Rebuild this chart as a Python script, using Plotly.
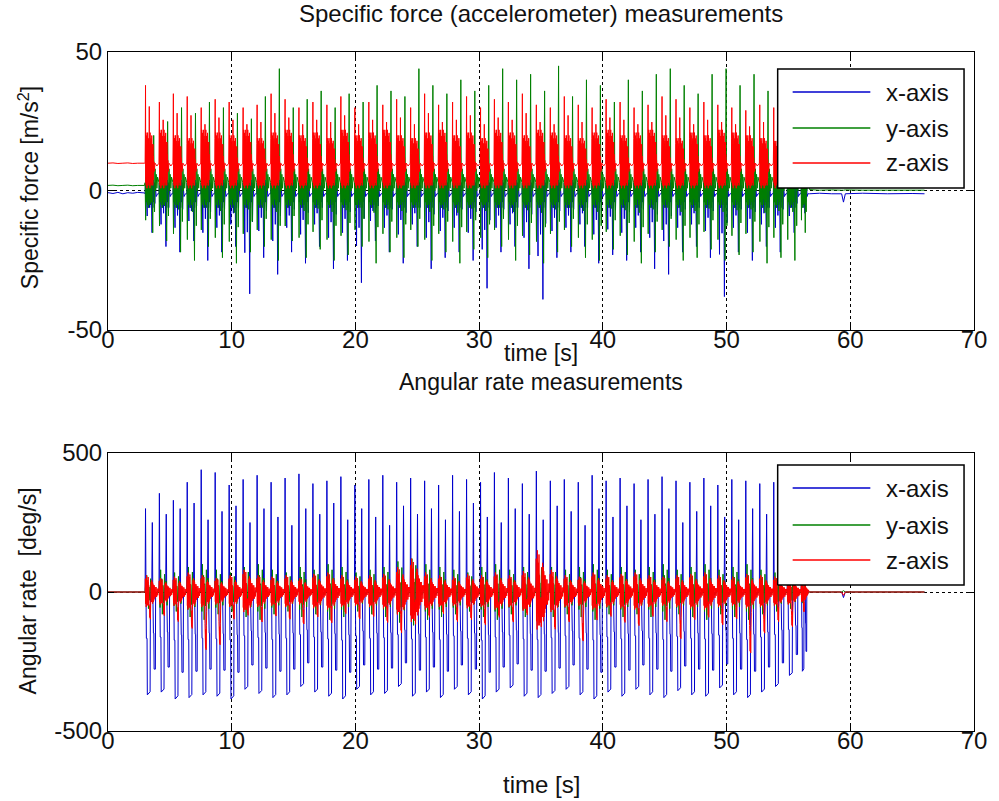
import plotly.graph_objects as go

# ---------------- data ----------------
SERIES = ["x-axis", "y-axis", "z-axis"]
COLORS = ["rgb(0,0,205)", "rgb(0,128,0)", "rgb(255,0,0)"]

X_TICKS = [0, 10, 20, 30, 40, 50, 60, 70]
X_LABELS = ["0", "10", "20", "30", "40", "50", "60", "70"]
ACC_TICKS = [-50, 0, 50]
ACC_LABELS = ["-50", "0", "50"]
GYR_TICKS = [-500, 0, 500]
GYR_LABELS = ["-500", "0", "500"]

# start time of each stride [s]
STRIDE_T = [3.00, 4.12, 5.25, 6.37, 7.50, 8.63, 9.76, 10.89, 12.02, 13.15,
            14.28, 15.40, 16.53, 17.66, 18.79, 19.92, 21.05, 22.18, 23.30, 24.43,
            25.56, 26.69, 27.82, 28.95, 30.08, 31.20, 32.33, 33.46, 34.59, 35.72,
            36.85, 37.98, 39.10, 40.23, 41.36, 42.49, 43.62, 44.75, 45.88, 47.00,
            48.13, 49.26, 50.39, 51.52, 52.65, 53.78, 54.90, 56.03]
LAST_DUR = 0.6

# angular rate, x (blue): main peak, secondary peak, trough [deg/s]
GX_MAX = [300, 355, 330, 395, 440, 430, 385, 405, 420, 395,
          410, 425, 390, 400, 415, 385, 405, 420, 395, 410,
          400, 385, 420, 405, 395, 430, 410, 390, 435, 400,
          405, 395, 420, 400, 410, 390, 405, 415, 400, 395,
          410, 385, 405, 400, 390, 395, 150, 40]
GX_MID = [250, 280, 300, 320, 260, 290, 310, 250, 300, 270,
          240, 300, 280, 320, 260, 300, 270, 240, 310, 280,
          300, 260, 290, 320, 270, 250, 300, 280, 260, 310,
          290, 240, 300, 270, 310, 260, 280, 300, 250, 290,
          310, 270, 260, 300, 280, 250, 120, 30]
GX_MIN = [-370, -360, -385, -380, -370, -375, -385, -350, -365, -380,
          -370, -340, -360, -375, -385, -350, -370, -365, -340, -375,
          -360, -380, -350, -370, -385, -360, -345, -375, -380, -365,
          -350, -370, -385, -360, -375, -350, -370, -380, -355, -370,
          -375, -345, -370, -380, -360, -340, -300, -285]
# angular rate, y (green): oscillation amplitude [deg/s]
GY_AMP = [60, 80, 70, 90, 100, 80, 70, 90, 100, 80,
          70, 90, 80, 100, 90, 70, 80, 90, 110, 120,
          100, 90, 80, 70, 90, 100, 80, 90, 110, 90,
          80, 90, 100, 80, 90, 80, 90, 100, 80, 90,
          100, 80, 90, 100, 80, 70, 60, 40]
# angular rate, z (red): oscillation peak and dip [deg/s]
GZ_PEAK = [60, 50, 55, 70, 60, 50, 60, 80, 60, 55,
           60, 50, 65, 70, 60, 55, 60, 65, 90, 120,
           70, 60, 55, 65, 60, 70, 60, 75, 150, 80,
           60, 55, 70, 60, 65, 70, 60, 55, 60, 65,
           70, 60, 55, 65, 60, 55, 50, 40]
GZ_DIP = [-80, -70, -90, -110, -190, -175, -80, -60, -90, -70,
          -80, -100, -70, -90, -60, -80, -70, -90, -120, -80,
          -70, -60, -90, -80, -100, -70, -90, -60, -80, -110,
          -90, -160, -80, -70, -90, -100, -70, -90, -150, -80,
          -70, -100, -80, -200, -130, -90, -110, -60]

# specific force, x (blue): downward spike [m/s^2]
AX_MIN = [-15, -20, -22, -18, -25, -22, -20, -37, -24, -30,
          -22, -26, -20, -28, -25, -33, -18, -22, -26, -20,
          -28, -24, -22, -25, -35, -22, -20, -28, -39, -24,
          -22, -20, -26, -23, -25, -22, -28, -30, -22, -20,
          -24, -38, -22, -25, -20, -22, -15, -8]
# specific force, y (green): up spike and down spike [m/s^2]
AY_MAX = [20, 25, 30, 28, 32, 30, 28, 26, 34, 44,
          30, 33, 36, 30, 35, 32, 38, 36, 34, 44,
          38, 35, 40, 36, 38, 44, 40, 42, 36, 45,
          34, 40, 38, 32, 40, 36, 42, 44, 38, 35,
          42, 44, 38, 42, 36, 32, 18, 6]
AY_MIN = [-15, -18, -22, -25, -20, -24, -26, -22, -20, -25,
          -18, -24, -21, -25, -23, -20, -26, -22, -24, -20,
          -25, -22, -26, -21, -24, -20, -25, -23, -26, -22,
          -20, -24, -25, -21, -23, -26, -22, -20, -25, -24,
          -21, -25, -23, -22, -26, -24, -25, -15]
# specific force, z (red): spike and block top [m/s^2]
AZ_SPIKE = [38, 32, 35, 34, 30, 33, 32, 30, 31, 35,
            33, 30, 32, 31, 34, 30, 32, 31, 33, 30,
            35, 31, 32, 34, 30, 33, 32, 35, 31, 30,
            34, 31, 30, 33, 32, 30, 31, 34, 33, 30,
            32, 31, 30, 29, 31, 30, 22, 12]
AZ_HI = [21, 22, 20, 19, 22, 21, 20, 22, 19, 21,
         22, 20, 21, 19, 22, 20, 21, 22, 20, 19,
         21, 22, 20, 21, 19, 22, 21, 20, 22, 21,
         20, 19, 21, 22, 20, 21, 22, 20, 19, 21,
         20, 22, 21, 20, 19, 18, 14, 10]

# still periods before and after walking
PRE_T = [0.0, 0.4, 0.8, 1.2, 1.6, 2.0, 2.4, 2.95]
AX_PRE = [-0.6, -0.9, -0.5, -1.0, -0.6, -0.8, -0.5, -0.7]
AY_PRE = [2.0, 2.1, 1.9, 2.0, 2.1, 1.9, 2.0, 2.0]
AZ_PRE = [10.0, 10.1, 9.9, 10.0, 10.1, 9.9, 10.0, 10.0]
G_PRE = [0, 0, 0, 0, 0, 0, 0, 0]

POST_T = [56.7, 57.5, 58.5, 59.3, 59.45, 59.6, 61.0, 63.0, 65.0, 66.0]
AX_POST = [-1.0, -0.8, -1.0, -1.0, -4.0, -1.0, -0.8, -1.0, -0.9, -1.0]
AY_POST = [0.5, 0.3, 0.4, 0.3, 0.3, 0.4, 0.3, 0.3, 0.3, 0.3]
AZ_POST = [10.0, 9.8, 9.9, 9.8, 9.8, 9.9, 9.8, 9.8, 9.8, 9.8]
GX_POST = [0, 0, 0, 0, -20, 0, 0, 0, 0, 0]
GY_POST = [0, 0, 0, 0, 5, 0, 0, 0, 0, 0]
GZ_POST = [0, 0, 0, 0, -12, 0, 0, 0, 0, 0]

# ---------------- stride shapes (fraction of stride, weights..., offset) ----------------
GX_SHAPE = [(0.00, 0, 0, 0, 5), (0.03, 1, 0, 0, 0), (0.06, 0, 0, 0, 30),
            (0.09, 0, 0, 0.45, 0), (0.14, 0, 0, 0.45, 0), (0.16, 0, 0, 1.0, 0),
            (0.36, 0, 0, 0.97, 0), (0.38, 0, 0, 0, -40), (0.42, 0, 0, 0, 15),
            (0.48, 0, 0, 0, 10), (0.52, 0, 1, 0, 0), (0.55, 0, 0, 0, 20),
            (0.60, 0, 0, 0.4, 0), (0.63, 0, 0, 0.4, 0), (0.65, 0, 0, 0.75, 0),
            (0.74, 0, 0, 0.75, 0), (0.76, 0, 0, 0, 0),
            (0.84, 0, 0, 0, -10), (0.92, 0, 0, 0, 5)]
GY_SHAPE = [(0.00, 0, 0), (0.04, 0.5, 0), (0.08, -0.7, 0), (0.12, 1.0, 0),
            (0.16, -0.4, 0), (0.20, 0.6, 0), (0.24, -1.0, 0), (0.28, 0.3, 0),
            (0.34, -0.5, 0), (0.40, 0.8, 0), (0.46, -0.3, 0), (0.52, 0.5, 0),
            (0.58, -0.6, 0), (0.64, 0.2, 0), (0.75, -0.1, 0)]
GZ_SHAPE = [(0.00, 0, 0, 0), (0.02, 0.8, 0, 0), (0.04, -0.7, 0, 0), (0.06, 0.5, 0, 0),
            (0.08, -0.9, 0, 0), (0.10, 1.0, 0, 0), (0.12, -0.5, 0, 0), (0.14, 0.6, 0, 0),
            (0.16, -0.8, 0, 0), (0.18, 0.7, 0, 0), (0.20, -0.6, 0, 0), (0.22, 0.9, 0, 0),
            (0.24, -0.8, 0, 0), (0.26, 0.4, 0, 0), (0.28, -0.7, 0, 0),
            (0.30, 0, 0.6, 0), (0.32, 0.3, 0.9, 0),
            (0.34, -0.2, 1.0, 0), (0.36, 0.3, 0.8, 0), (0.38, -0.3, 1.0, 0),
            (0.40, 0.2, 0.7, 0), (0.42, 0.1, 0.4, 0), (0.44, 0.6, 0, 0), (0.46, -0.6, 0, 0),
            (0.48, 0.7, 0, 0), (0.50, -0.5, 0, 0), (0.52, 0.6, 0, 0), (0.54, -0.7, 0, 0),
            (0.56, 0.5, 0, 0), (0.58, -0.6, 0, 0), (0.60, 0.4, 0, 0), (0.63, -0.5, 0, 0),
            (0.66, 0.4, 0, 0), (0.69, -0.4, 0, 0), (0.72, 0.3, 0, 0), (0.75, -0.3, 0, 0),
            (0.79, 0.3, 0, 0), (0.83, -0.3, 0, 0), (0.87, 0.2, 0, 0), (0.91, -0.2, 0, 0),
            (0.95, 0.2, 0, 0)]
AX_SHAPE = [(0.00, 0, -1), (0.03, 0, 3), (0.06, 0, -4), (0.09, 0, 2), (0.12, 0, -5),
            (0.15, 0.6, 0), (0.17, 0, 4), (0.20, 0, -3), (0.23, 0, 5), (0.26, 0, -6),
            (0.29, 0, 3), (0.33, 0.4, 0), (0.36, 0, 4), (0.39, 0, -5), (0.42, 0, 6),
            (0.46, 0, -3), (0.50, 1.0, 0), (0.53, 0, 3), (0.56, 0, -6), (0.59, 0, 4),
            (0.62, 0, -4), (0.66, 0, 3), (0.70, 0.3, 0), (0.74, 0, 2), (0.80, 0, -2),
            (0.90, 0, -1)]
AY_SHAPE = [(0.00, 0, 0, 3), (0.04, 0, 0.7, 0), (0.07, 0, 0, 5), (0.10, 0, 0, -4),
            (0.13, 0, 0, 6), (0.16, 0, 0, -5), (0.19, 0, 0, 4), (0.22, 0, 0, -6),
            (0.25, 0, 0, 5), (0.28, 0, 0, -3), (0.31, 0, 0, 6), (0.34, 0, 0, -5),
            (0.37, 0, 0, 4), (0.40, 0, 0.3, 0), (0.43, 0, 0, 5), (0.46, 0, 0, -4),
            (0.50, 0, 0, 3), (0.55, 0, 1.0, 0), (0.58, 0, 0, 2),
            (0.62, 1.0, 0, 0), (0.65, 0, 0, 5), (0.68, 0, 0.5, 0), (0.72, 0, 0, 8),
            (0.76, 0, 0, 0), (0.80, 0, 0, 6), (0.85, 0, 0, 1), (0.90, 0, 0, 5)]
AZ_SHAPE = [(0.00, 0, 0, 10), (0.015, 0, 0.9, 0), (0.03, 1, 0, 0), (0.045, 0, 0, 3),
            (0.06, 0, 1.0, 0), (0.075, 0, 0, 2), (0.09, 0, 0.7, 0), (0.105, 0, 0, 5),
            (0.12, 0, 0.95, 0), (0.135, 0, 0, 1), (0.15, 0, 0.8, 0), (0.165, 0, 0, 4),
            (0.18, 0, 1.0, 0), (0.195, 0, 0, 2), (0.21, 0, 0.85, 0), (0.225, 0, 0, 3),
            (0.24, 0, 0.9, 0), (0.255, 0, 0, 6), (0.27, 0, 0.75, 0), (0.285, 0, 0, 2),
            (0.30, 0.8, 0, 0), (0.315, 0, 0, 4), (0.33, 0, 0.8, 0), (0.345, 0, 0, 1),
            (0.36, 0, 1.0, 0), (0.375, 0, 0, 3), (0.39, 0, 0.85, 0), (0.405, 0, 0, 5),
            (0.42, 0, 0.9, 0), (0.435, 0, 0, 2), (0.45, 0, 0.7, 0), (0.465, 0, 0, 4),
            (0.48, 0, 0.95, 0), (0.495, 0, 0, 3), (0.51, 0, 0.8, 0), (0.525, 0, 0, 6),
            (0.54, 0, 0.75, 0), (0.555, 0, 0, 2), (0.57, 0, 0.8, 0), (0.585, 0, 0, 4),
            (0.60, 0, 0.6, 0), (0.62, 0, 0, 8), (0.64, 0, 0.5, 0), (0.66, 0, 0, 7),
            (0.72, 0, 0, 10), (0.85, 0, 0, 9)]


def build(shape, params, pre_v, post_v):
    xs, ys = list(PRE_T), list(pre_v)
    n = len(STRIDE_T)
    for i, t0 in enumerate(STRIDE_T):
        dur = (STRIDE_T[i + 1] - t0) if i + 1 < n else LAST_DUR
        for row in shape:
            frac, weights, c0 = row[0], row[1:-1], row[-1]
            v = c0 + sum(w * p[i] for w, p in zip(weights, params))
            xs.append(t0 + frac * dur)
            ys.append(v)
    xs += POST_T
    ys += post_v
    return xs, ys


acc = [build(AX_SHAPE, [AX_MIN], AX_PRE, AX_POST),
       build(AY_SHAPE, [AY_MAX, AY_MIN], AY_PRE, AY_POST),
       build(AZ_SHAPE, [AZ_SPIKE, AZ_HI], AZ_PRE, AZ_POST)]
gyr = [build(GX_SHAPE, [GX_MAX, GX_MID, GX_MIN], G_PRE, GX_POST),
       build(GY_SHAPE, [GY_AMP], G_PRE, GY_POST),
       build(GZ_SHAPE, [GZ_PEAK, GZ_DIP], G_PRE, GZ_POST)]

# ---------------- figure ----------------
TICK_FONT = dict(family="Liberation Sans, Arial", size=24, color="#111")
TEXT_FONT = dict(family="Liberation Sans, Arial", size=24, color="#111")
MID_FONT = dict(family="Liberation Sans, Arial", size=23, color="#111")
YTITLE_FONT = dict(family="Liberation Sans, Arial", size=23, color="#111")

fig = go.Figure()
for (xs, ys), name, col in zip(acc, SERIES, COLORS):
    fig.add_trace(go.Scatter(x=xs, y=ys, mode="lines", name=name, showlegend=False,
                             line=dict(color=col, width=1, simplify=False),
                             xaxis="x", yaxis="y"))
for (xs, ys), name, col in zip(gyr, SERIES, COLORS):
    fig.add_trace(go.Scatter(x=xs, y=ys, mode="lines", name=name, showlegend=False,
                             line=dict(color=col, width=1, simplify=False),
                             xaxis="x2", yaxis="y2"))

axis_common = dict(showline=True, linecolor="black", linewidth=1, mirror="ticks",
                   ticks="inside", ticklen=6, tickcolor="black", showgrid=True,
                   gridcolor="black", griddash="dot", gridwidth=1, zeroline=False,
                   tickfont=TICK_FONT)

fig.update_layout(
    width=999, height=801, paper_bgcolor="white", plot_bgcolor="white",
    margin=dict(l=108, r=22, t=52, b=70), showlegend=False,
    xaxis=dict(domain=[0, 1], range=[0, 70], tickvals=X_TICKS, ticktext=X_LABELS,
               anchor="y", ticklabelstandoff=-12, **axis_common),
    yaxis=dict(domain=[0.5906, 1], range=[-50, 50], tickvals=ACC_TICKS, ticktext=ACC_LABELS,
               anchor="x", **axis_common),
    xaxis2=dict(domain=[0, 1], range=[0, 70], tickvals=X_TICKS, ticktext=X_LABELS,
                anchor="y2", ticklabelstandoff=-12, **axis_common),
    yaxis2=dict(domain=[0, 0.4094], range=[-500, 500], tickvals=GYR_TICKS, ticktext=GYR_LABELS,
                anchor="x2", **axis_common),
)

# titles and axis labels
fig.add_annotation(text="Specific force (accelerometer) measurements", xref="paper", yref="paper",
                   x=0.5, y=1.056, xanchor="center", yanchor="middle", showarrow=False,
                   font=TEXT_FONT)
fig.add_annotation(text="time [s]", xref="paper", yref="paper", x=0.5, y=0.5567,
                   xanchor="center", yanchor="middle", showarrow=False, font=MID_FONT)
fig.add_annotation(text="Angular rate measurements", xref="paper", yref="paper", x=0.5, y=0.5140,
                   xanchor="center", yanchor="middle", showarrow=False, font=MID_FONT)
fig.add_annotation(text="time [s]", xref="paper", yref="paper", x=0.5, y=-0.0795,
                   xanchor="center", yanchor="middle", showarrow=False, font=TEXT_FONT)
fig.add_annotation(text="Specific force [m/s<sup>2</sup>]", xref="paper", yref="paper",
                   x=-0.092, y=0.80, textangle=-90, showarrow=False,
                   xanchor="center", yanchor="middle", font=YTITLE_FONT)
fig.add_annotation(text="Angular rate  [deg/s]", xref="paper", yref="paper",
                   x=-0.092, y=0.206, textangle=-90, showarrow=False,
                   xanchor="center", yanchor="middle", font=YTITLE_FONT)

# MATLAB-style legend boxes
legends = [("x domain", "y domain", [0.5108, 0.9388], [0.856, 0.7266, 0.6007]),
           ("x2 domain", "y2 domain", [0.5252, 0.9568], [0.874, 0.741, 0.615])]
for xr, yr, (y0, y1), rows in legends:
    fig.add_shape(type="rect", xref=xr, yref=yr, x0=0.7733, x1=0.9885, y0=y0, y1=y1,
                  fillcolor="white", line=dict(color="black", width=1.5), layer="above")
    for name, col, yy in zip(SERIES, COLORS, rows):
        fig.add_shape(type="line", xref=xr, yref=yr, x0=0.7906, x1=0.8803, y0=yy, y1=yy,
                      line=dict(color=col, width=1.5), layer="above")
        fig.add_annotation(text=name, xref=xr, yref=yr, x=0.8964, y=yy, xanchor="left",
                           yanchor="middle", showarrow=False, font=TEXT_FONT)

fig.write_html("out.html")
